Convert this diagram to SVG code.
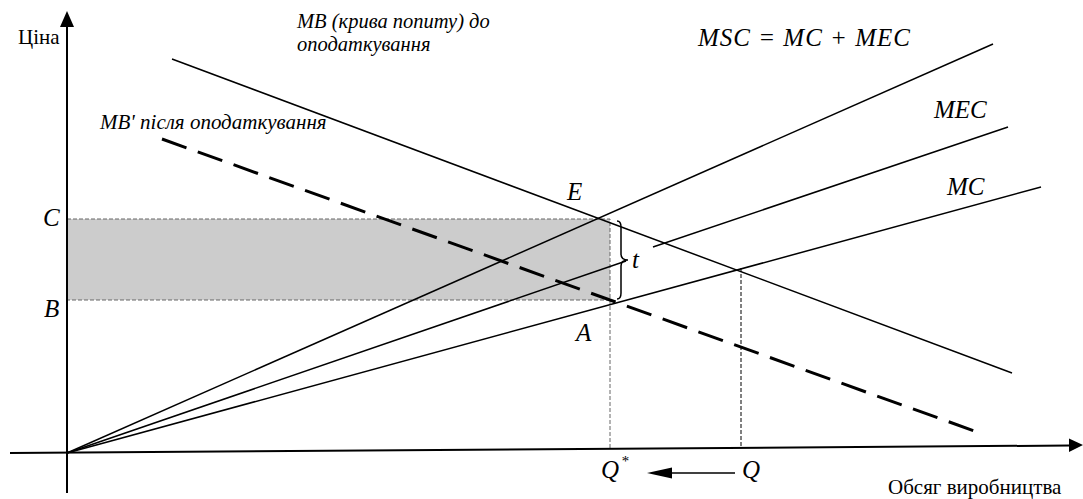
<svg xmlns="http://www.w3.org/2000/svg" width="1083" height="499" viewBox="0 0 1083 499">
<style>
.ln{stroke:#000;stroke-width:1.5;fill:none}
.ax{stroke:#000;stroke-width:2;fill:none}
.gd{stroke:#666;stroke-width:1;stroke-dasharray:4 2;fill:none}
.bd{stroke:#000;stroke-width:1;stroke-dasharray:4 2;fill:none}
.shade{fill:#cccccc;stroke:#666;stroke-width:1;stroke-dasharray:4 2}
.tx{font-family:'Liberation Serif','Times New Roman',serif;fill:#000}
.it{font-family:'Liberation Serif','Times New Roman',serif;font-style:italic;fill:#000}
</style>
<rect width="1083" height="499" fill="#fff"/>
<g id="shade">
<rect class="shade" x="67" y="219" width="543" height="81"/>
</g>
<g id="connectors">
<line class="gd" x1="610" y1="300" x2="610" y2="448"/>
<line class="bd" x1="741" y1="268" x2="741" y2="447"/>
<line class="ax" x1="67" y1="493" x2="67" y2="26"/>
<polygon points="67,11 60,27 74,27" fill="#000"/>
<line class="ax" x1="10" y1="453" x2="1070" y2="445.5"/>
<polygon points="1083,445 1069,438.5 1069,452" fill="#000"/>
<line class="ln" x1="67" y1="453" x2="993" y2="44"/>
<line class="ln" x1="67" y1="453" x2="626" y2="261"/>
<line class="ln" x1="653" y1="247" x2="1008" y2="127"/>
<line class="ln" x1="67" y1="453" x2="1041" y2="187"/>
<line class="ln" x1="172" y1="59" x2="1012" y2="373"/>
<line x1="162" y1="139" x2="980" y2="433" stroke="#000" stroke-width="3" stroke-dasharray="26 12"/>
<path class="ln" d="M617,221 Q621,221 621,227 L621,254 Q621,260 628,260 Q621,260 621,266 L621,293 Q621,299 617,299"/>
<line class="ln" x1="735" y1="473" x2="670" y2="473" stroke-width="1"/>
<polygon points="647,473 672,467.5 672,478.5" fill="#000"/>
</g>
<g id="axis-labels">
<text class="tx" x="18" y="44" font-size="21">Ціна</text>
<text class="tx" x="888" y="494" font-size="21">Обсяг виробництва</text>
</g>
<g id="curve-labels">
<text class="it" x="297" y="28" font-size="20.5">MB (крива попиту) до</text>
<text class="it" x="297" y="51" font-size="20.5">оподаткування</text>
<text class="it" x="100" y="129" font-size="21">MB' після оподаткування</text>
<text class="it" x="698" y="46" font-size="25" textLength="212" lengthAdjust="spacing">MSC = MC + MEC</text>
<text class="it" x="934" y="118" font-size="25">MEC</text>
<text class="it" x="947" y="195" font-size="25">MC</text>
</g>
<g id="point-labels">
<text class="it" x="43" y="226" font-size="25">C</text>
<text class="it" x="44" y="317" font-size="25">B</text>
<text class="it" x="567" y="200" font-size="25">E</text>
<text class="it" x="576" y="341" font-size="25">A</text>
<text class="it" x="632" y="268" font-size="25">t</text>
<text class="it" x="601" y="478" font-size="25">Q</text>
<text class="it" x="621" y="466" font-size="15">*</text>
<text class="it" x="742" y="478" font-size="25">Q</text>
</g>
</svg>
